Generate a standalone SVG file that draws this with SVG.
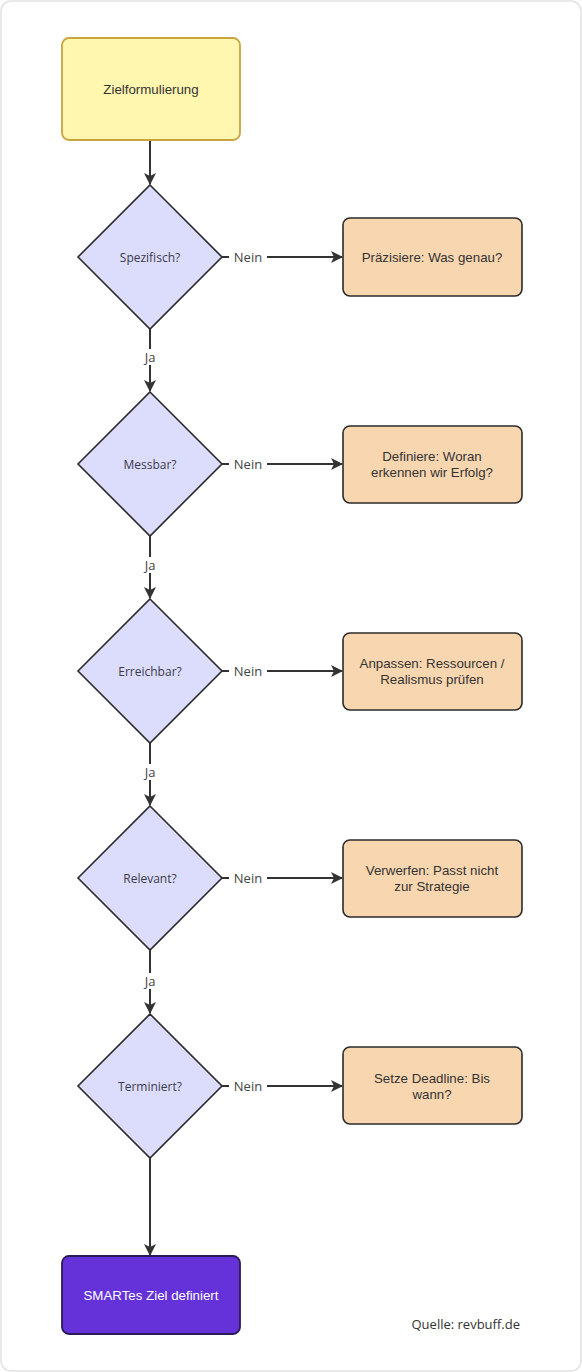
<svg xmlns="http://www.w3.org/2000/svg" width="582" height="1372" viewBox="0 0 582 1372">
<style>
.box{fill:#f8d6b0;stroke:#2b2b2b;stroke-width:1.6}
.dia{fill:#dcdcfd;stroke:#2b2b2b;stroke-width:1.6}
.t{font-family:"Liberation Sans",Arial,sans-serif;font-size:13.3px;fill:#333;text-anchor:middle;dominant-baseline:central}
.d{font-family:"Open Sans","Noto Sans",sans-serif;font-size:12px;fill:#3a3a4a;text-anchor:middle;dominant-baseline:central}
.l{font-family:"Open Sans","Noto Sans",sans-serif;font-size:13px;fill:#444;text-anchor:middle;dominant-baseline:central}
.e{fill:none;stroke:#333;stroke-width:2}
</style>
<defs>
<marker id="a" viewBox="0 0 12 12" refX="11" refY="6" markerWidth="12" markerHeight="12" markerUnits="userSpaceOnUse" orient="auto">
<path d="M0,0 L12,6 L0,12 L3,6 z" fill="#333"/>
</marker>
</defs>
<rect x="1" y="1" width="580" height="1370" rx="10" fill="#fff" stroke="#e2e2e2" stroke-width="1.5"/>
<g id="connectors">
<path class="e" d="M150,140 V184" marker-end="url(#a)"/>
<path class="e" d="M150,329 V391" marker-end="url(#a)"/>
<path class="e" d="M150,536 V598" marker-end="url(#a)"/>
<path class="e" d="M150,743 V805" marker-end="url(#a)"/>
<path class="e" d="M150,950 V1013" marker-end="url(#a)"/>
<path class="e" d="M150,1158 V1255" marker-end="url(#a)"/>
<path class="e" d="M222,257 H342" marker-end="url(#a)"/>
<path class="e" d="M222,464 H342" marker-end="url(#a)"/>
<path class="e" d="M222,671 H342" marker-end="url(#a)"/>
<path class="e" d="M222,878 H342" marker-end="url(#a)"/>
<path class="e" d="M222,1086 H342" marker-end="url(#a)"/>
<rect x="140" y="349" width="20" height="16" fill="#fff"/>
<text class="l" x="150" y="357">Ja</text>
<rect x="140" y="557" width="20" height="16" fill="#fff"/>
<text class="l" x="150" y="565">Ja</text>
<rect x="140" y="764" width="20" height="16" fill="#fff"/>
<text class="l" x="150" y="772">Ja</text>
<rect x="140" y="973" width="20" height="16" fill="#fff"/>
<text class="l" x="150" y="981">Ja</text>
<rect x="229" y="249" width="38" height="16" fill="#fff"/>
<text class="l" x="248" y="257">Nein</text>
<rect x="229" y="456" width="38" height="16" fill="#fff"/>
<text class="l" x="248" y="464">Nein</text>
<rect x="229" y="663" width="38" height="16" fill="#fff"/>
<text class="l" x="248" y="671">Nein</text>
<rect x="229" y="870" width="38" height="16" fill="#fff"/>
<text class="l" x="248" y="878">Nein</text>
<rect x="229" y="1078" width="38" height="16" fill="#fff"/>
<text class="l" x="248" y="1086">Nein</text>
</g>
<g id="start">
<rect x="62" y="38" width="178" height="102" rx="7" fill="#fff6b0" stroke="#c9a540" stroke-width="1.8"/>
<text class="t" x="151" y="89">Zielformulierung</text>
</g>
<g id="q1"><path class="dia" d="M150,185 L222,257 L150,329 L78,257 Z"/><text class="d" x="150" y="257">Spezifisch?</text></g>
<g id="q2"><path class="dia" d="M150,392 L222,464 L150,536 L78,464 Z"/><text class="d" x="150" y="464">Messbar?</text></g>
<g id="q3"><path class="dia" d="M150,599 L222,671 L150,743 L78,671 Z"/><text class="d" x="150" y="671">Erreichbar?</text></g>
<g id="q4"><path class="dia" d="M150,806 L222,878 L150,950 L78,878 Z"/><text class="d" x="150" y="878">Relevant?</text></g>
<g id="q5"><path class="dia" d="M150,1014 L222,1086 L150,1158 L78,1086 Z"/><text class="d" x="150" y="1086">Terminiert?</text></g>
<g id="a1"><rect class="box" x="343" y="218" width="179" height="78" rx="7"/><text class="t" x="432" y="257">Präzisiere: Was genau?</text></g>
<g id="a2"><rect class="box" x="343" y="426" width="179" height="77" rx="7"/><text class="t" x="432" y="456">Definiere: Woran</text><text class="t" x="432" y="472">erkennen wir Erfolg?</text></g>
<g id="a3"><rect class="box" x="343" y="633" width="179" height="77" rx="7"/><text class="t" x="432" y="663">Anpassen: Ressourcen /</text><text class="t" x="432" y="679">Realismus prüfen</text></g>
<g id="a4"><rect class="box" x="343" y="840" width="179" height="77" rx="7"/><text class="t" x="432" y="870">Verwerfen: Passt nicht</text><text class="t" x="432" y="886">zur Strategie</text></g>
<g id="a5"><rect class="box" x="343" y="1047" width="179" height="77" rx="7"/><text class="t" x="432" y="1078">Setze Deadline: Bis</text><text class="t" x="432" y="1094">wann?</text></g>
<g id="end"><rect x="62" y="1256" width="178" height="78" rx="7" fill="#6432d8" stroke="#2a1a55" stroke-width="1.8"/><text class="t" x="151" y="1295" style="fill:#fff">SMARTes Ziel definiert</text></g>
<text x="520" y="1329" font-family="'Open Sans','Noto Sans',sans-serif" font-size="13" fill="#333" text-anchor="end">Quelle: revbuff.de</text>
</svg>
